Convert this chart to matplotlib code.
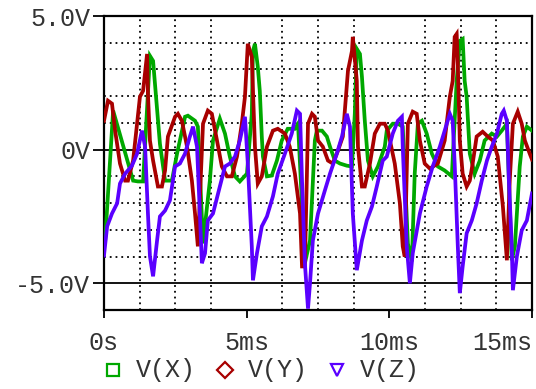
import matplotlib
matplotlib.use("Agg")
import matplotlib.pyplot as plt
from matplotlib.lines import Line2D

# time in ms, voltage in V
t_x = [0, 0.04, 0.32, 1.02, 1.19, 1.37, 1.61, 1.72, 1.96, 2.14, 2.38, 2.56, 2.84, 2.94,
       3.19, 3.29, 3.47, 3.71, 3.82, 4.06, 4.24, 4.41, 4.59, 4.76, 5.01, 5.18, 5.22, 5.29,
       5.39, 5.46, 5.53, 5.57, 5.71, 5.88, 6.06, 6.23, 6.44, 6.69, 6.8, 7.04, 7.22, 7.39,
       7.46, 7.64, 7.81, 7.92, 8.09, 8.27, 8.51, 8.69, 8.79, 8.86, 8.97, 9.04, 9.14, 9.25,
       9.42, 9.6, 9.84, 9.91, 10.12, 10.3, 10.47, 10.65, 10.79, 10.89, 11.0, 11.14, 11.31,
       11.49, 11.7, 11.94, 12.19, 12.36, 12.47, 12.57, 12.64, 12.71, 12.82, 12.99, 13.17,
       13.34, 13.59, 13.77, 13.94, 14.12, 14.29, 14.4, 14.57, 14.68, 14.82, 15.0]
v_x = [-3.5, -3.4, 1.46, -1.16, -1.19, -1.19, 3.51, 3.32, 0.22, -1.16, -1.16, -0.15, 1.23, 1.27,
       1.08, 0.86, -3.51, -1.16, 0.34, 1.16, 0.6, -0.26, -1.0, -1.19, -0.9, 1.34, 3.69, 3.96,
       3.1, 2.2, 0.49, -0.26, -1.0, -0.97, -0.41, 0.34, 0.78, 0.78, 0.97, -4.25, -3.4, 0.34,
       0.71, 0.71, 0.49, 0.11, -0.41, -0.52, -0.6, -0.63, 1.34, 3.77, 3.58, 2.72, 1.08, -0.41,
       -1.0, -0.63, 0.11, 0.71, 0.97, 0.97, 0.86, -3.51, -4.18, -0.9, 0.97, 1.08, 0.6,
       -0.15, -0.63, -0.78, -1.0, 2.57, 4.07, 4.14, 2.57, 1.98, -0.15, -0.9, -0.41,
       0.34, 0.6, 0.49, 0.71, 0.97, -4.14, -3.62, -0.63, 0.49, 0.86, 0.71]

t_y = [0, 0.14, 0.28, 0.39, 0.56, 0.74, 0.84, 1.02, 1.26, 1.37, 1.51, 1.54, 1.61, 1.72, 1.89,
       2.03, 2.14, 2.24, 2.49, 2.59, 2.73, 2.91, 3.08, 3.19, 3.29, 3.47, 3.64, 3.78, 3.96,
       4.13, 4.31, 4.48, 4.66, 4.83, 4.94, 5.04, 5.18, 5.29, 5.39, 5.53, 5.71, 5.92, 6.09,
       6.34, 6.51, 6.69, 6.87, 6.94, 7.04, 7.15, 7.29, 7.39, 7.5, 7.67, 7.85, 8.02, 8.2,
       8.37, 8.55, 8.69, 8.72, 8.86, 8.9, 9.04, 9.14, 9.32, 9.49, 9.67, 9.84, 9.95, 10.19,
       10.37, 10.47, 10.54, 10.65, 10.82, 10.96, 11.07, 11.24, 11.42, 11.7, 11.94, 12.12,
       12.22, 12.29, 12.36, 12.4, 12.47, 12.57, 12.71, 12.82, 12.92, 13.06, 13.27, 13.45,
       13.63, 13.8, 13.98, 14.12, 14.22, 14.33, 14.5, 14.64, 14.75, 14.92, 15.0]
v_y = [1.08, 1.83, 1.72, 0.71, -0.52, -1.16, -1.16, -0.41, 1.98, 2.2, 3.58, 2.09, 0.34, -0.41, -1.38,
       -1.38, -0.78, 0.49, 1.23, 1.34, 1.08, 0.11, -1.16, -2.39, -3.62, 0.97, 1.46, 1.34, 0.34,
       -0.63, -1.0, -1.0, -0.26, 0.97, 1.98, 3.96, 3.47, 0.11, -1.27, -1.0, 0.11, 0.71, 0.78,
       0.6, 0.11, -0.9, -2.39, -4.37, -4.37, 0.97, 1.34, 1.23, 0.34, 0.11, -0.41, -0.52, -0.04,
       0.49, 2.95, 3.69, 4.22, 2.57, 0.11, -1.38, -1.38, -0.52, 0.6, 0.97, 0.97, 0.71, -0.52,
       -2.01, -3.62, -4.0, 0.97, 1.42, 1.34, 0.34, -0.52, -0.71, -0.52, 0.34, 1.98,
       2.57, 4.22, 4.33, 3.21, 0.34, -0.9, -1.38, -1.16, -0.52, 0.49, 0.67, 0.49,
       0.34, -0.26, -2.13, -4.14, -1.16, 0.97, 1.42, 0.97, 0.34, -0.15, -0.37]

t_z = [0, 0.11, 0.28, 0.46, 0.56, 0.74, 0.98, 1.16, 1.33, 1.44, 1.54, 1.61, 1.72, 1.86, 1.96,
       2.14, 2.31, 2.49, 2.66, 2.84, 3.01, 3.12, 3.26, 3.36, 3.43, 3.54, 3.64, 3.82, 4.06,
       4.24, 4.41, 4.59, 4.76, 4.94, 5.04, 5.18, 5.22, 5.36, 5.53, 5.71, 5.92, 6.09, 6.34,
       6.58, 6.76, 6.87, 6.94, 7.04, 7.15, 7.22, 7.32, 7.5, 7.74, 7.92, 8.16, 8.34, 8.51,
       8.62, 8.72, 8.86, 9.04, 9.21, 9.39, 9.56, 9.77, 9.91, 10.12, 10.3, 10.44, 10.47,
       10.61, 10.72, 10.82, 11.07, 11.31, 11.52, 11.77, 11.94, 12.12, 12.22, 12.29, 12.4,
       12.47, 12.57, 12.71, 12.89, 13.06, 13.24, 13.42, 13.59, 13.77, 13.94, 14.01, 14.12,
       14.19, 14.29, 14.33, 14.47, 14.64, 14.82, 15.0]
v_z = [-3.96, -2.87, -2.39, -2.01, -1.27, -0.9, -0.6, -0.15, 0.71, 0.11, -2.39, -3.99, -4.74, -3.4, -2.5,
       -2.28, -1.9, -0.63, -0.52, -0.15, 0.49, 0.86, 0.11, -2.39, -4.25, -3.88, -2.65, -2.39, -1.38,
       -0.63, -0.52, -0.26, 0.34, 1.23, -0.52, -3.62, -4.89, -3.88, -2.87, -2.5, -1.75, -0.9, -0.15,
       0.6, 1.46, 1.34, -1.16, -4.25, -5.95, -5.0, -3.4, -2.39, -1.53, -0.9, -0.15, 0.49, 1.34,
       0.86, -2.39, -4.51, -3.4, -2.65, -2.13, -1.38, -0.41, -0.26, 0.6, 1.08, 1.23, 0.11,
       -3.62, -5.0, -3.88, -2.39, -1.38, -0.63, 0.11, 0.71, 1.34, 1.08, -0.52, -3.62,
       -5.37, -4.37, -3.13, -2.65, -2.01, -1.16, -0.41, 0.11, 0.6, 1.34, 1.46, 1.08,
       -1.16, -3.62, -5.26, -3.99, -3.02, -2.65, -1.64]

series = [("V(X)", t_x, v_x, "#00a800", "s"),
          ("V(Y)", t_y, v_y, "#a80000", "D"),
          ("V(Z)", t_z, v_z, "#5a00ff", "v")]

xticks = [0, 5, 10, 15]
xticklabels = ["0s", "5ms", "10ms", "15ms"]
yticks = [5, 0, -5]
yticklabels = ["5.0V", "0V", "-5.0V"]

font = "Liberation Mono"
txt = "#333333"

fig = plt.figure(figsize=(5.36, 3.89), dpi=100)
ax = fig.add_axes([104 / 536, 1 - 310 / 389, 428 / 536, 294 / 389])

for name, t, v, c, m in series:
    ax.plot(t, v, color=c, lw=2.7, solid_joinstyle="miter", zorder=3)

ax.set_xlim(0, 15)
ax.set_ylim(-6, 5)

# dotted grid on the minor divisions, solid lines on the labelled volts
ax.set_xticks([1.25, 2.5, 3.75, 6.25, 7.5, 8.75, 11.25, 12.5, 13.75], minor=True)
ax.set_yticks([-4, -3, -2, -1, 1, 2, 3, 4], minor=True)
ax.grid(which="minor", color="black", lw=1.3, ls=(0, (1, 2.2)), zorder=1)
for yv in [0, -5]:
    ax.axhline(yv, color="black", lw=1.3, zorder=2)

ax.set_xticks(xticks)
ax.set_xticklabels(xticklabels, family=font, fontsize=18, color=txt)
ax.set_yticks(yticks)
ax.set_yticklabels(yticklabels, family=font, fontsize=18, color=txt)
ax.tick_params(which="minor", length=0)
ax.tick_params(axis="y", which="major", direction="out", length=8, width=1.3, pad=2)
ax.tick_params(axis="x", which="major", direction="out", length=6, width=1.3, pad=9)
ax.get_xticklabels()[-1].set_horizontalalignment("right")
ax.get_xticklabels()[-1].set_x(15.1)

for s in ax.spines.values():
    s.set_color("black")
    s.set_linewidth(1.6)

# legend row under the axis
for i, (name, t, v, c, m) in enumerate(series):
    x0 = (113 + 112 * i) / 536
    y0 = 1 - 370 / 389
    ms = 9 if m == "s" else 8
    fig.add_artist(Line2D([x0], [y0], marker=m, ms=ms, mfc="none", mec=c, mew=1.6,
                          ls="none", transform=fig.transFigure))
    fig.text(x0 + 23 / 536, y0, name, family=font, fontsize=18, color=txt,
             ha="left", va="center")

fig.savefig("out.png", dpi=100)
